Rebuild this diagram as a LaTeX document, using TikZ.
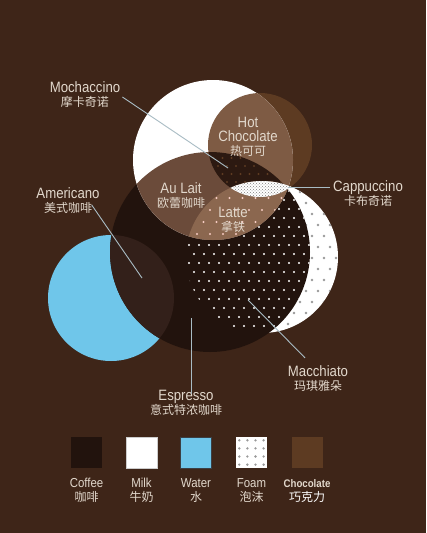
\documentclass[tikz,border=0pt]{standalone}
\usepackage{fontspec}
\setmainfont{Liberation Sans}[FakeStretch=0.88]
\newfontfamily\cjk{Noto Sans CJK SC}
\usetikzlibrary{positioning,patterns}

\definecolor{bgbrown}{HTML}{3E2518}
\definecolor{coffeecol}{HTML}{22130D}
\definecolor{watercol}{HTML}{6FC6EA}
\definecolor{choccol}{HTML}{5D3B22}
\definecolor{hotchoc}{HTML}{7E5B44}
\definecolor{aulaitcol}{HTML}{6B4B3A}
\definecolor{lattecol}{HTML}{8B674F}
\definecolor{mochacol}{HTML}{2C1911}
\definecolor{amercol}{HTML}{33201A}
\definecolor{lbltext}{HTML}{E2D8CC}
\definecolor{pointcol}{HTML}{A9BCC4}
\colorlet{dotgray}{gray!80}

\newcommand{\cn}[1]{{\cjk\mdseries\fontsize{12}{14}\selectfont #1}}

\tikzset{
  lbl/.style={text=lbltext, align=center, inner sep=0pt,
    font=\fontsize{15}{14}\selectfont},
  key/.style={text=lbltext, align=center, inner sep=0pt,
    font=\fontsize{13}{14}\selectfont},
  pointer/.style={draw=pointcol, line width=0.9pt},
  swatch/.style={minimum size=31pt, inner sep=0pt},
}

\begin{document}
\begin{tikzpicture}[x=1pt,y=-1pt]
  \def\coffeecirc{(210,252) circle (100pt)}
  \def\milkcirc{(213,160) circle (80pt)}
  \def\choccirc{(260,145) circle (52pt)}
  \def\foamcirc{(262,257) circle (76pt)}
  \def\watercirc{(111,298) circle (63pt)}

  \useasboundingbox (0,0) rectangle (426,533);
  \fill[bgbrown] (0,0) rectangle (426,533);

  % CIRCLES
  \fill[choccol] \choccirc;
  \fill[watercol] \watercirc;
  \fill[white] \foamcirc;
  \begin{scope}
    \clip \foamcirc;
    \foreach \r in {0,...,14} \foreach \c in {0,...,13}
      \fill[dotgray] ({186+12*\c+6*mod(\r,2)},{181+11*\r}) circle (1.4pt);
  \end{scope}
  \fill[coffeecol] \coffeecirc;
  \begin{scope}
    \clip \watercirc;
    \fill[amercol] \coffeecirc;
  \end{scope}
  % macchiato dots
  \begin{scope}
    \clip \coffeecirc; \clip \foamcirc;
    \foreach \r in {0,...,17} \foreach \c in {0,...,16}
      \fill[white] ({184+10*\c+5*mod(\r,2)},{182+9*\r}) circle (1.2pt);
  \end{scope}
  \fill[white] \milkcirc;
  \begin{scope}
    \clip \milkcirc;
    \fill[aulaitcol] \coffeecirc;
    \fill[hotchoc] \choccirc;
    \begin{scope}
      \clip \choccirc; \clip \coffeecirc;
      \fill[mochacol] \choccirc;
      \foreach \r in {0,...,5} \foreach \c in {0,...,9}
        \fill[choccol] ({200+9*\c+4.5*mod(\r,2)},{150+8*\r}) circle (1.1pt);
    \end{scope}
    \begin{scope}
      \clip \coffeecirc; \clip \foamcirc;
      \fill[lattecol] \foamcirc;
      \foreach \r in {0,...,6} \foreach \c in {0,...,8}
        \fill[red!15!white!85!brown] ({184+13*\c+6.5*mod(\r,2)},{186+12*\r}) circle (1.2pt);
    \end{scope}
  \end{scope}
  % cappuccino lens
  \begin{scope}
    \clip \choccirc;
    \fill[white] \foamcirc;
    \fill[pattern=crosshatch dots, pattern color=gray] \foamcirc;
  \end{scope}

  % LABELS
  \node[lbl] (hotc)  at (248,137) {Hot\\Chocolate\\\cn{热可可}};
  \node[lbl] (aulait) at (181,196) {Au Lait\\\cn{欧蕾咖啡}};
  \node[lbl] (latte) at (233,220) {Latte\\\cn{拿铁}};
  \node[lbl] (mocha) at (85,95) {Mochaccino\\\cn{摩卡奇诺}};
  \node[lbl] (capp)  at (368,194) {Cappuccino\\\cn{卡布奇诺}};
  \node[lbl] (amer)  at (68,201) {Americano\\\cn{美式咖啡}};
  \node[lbl] (espr)  at (186,403) {Espresso\\\cn{意式特浓咖啡}};
  \node[lbl] (macch) at (318,379) {Macchiato\\\cn{玛琪雅朵}};

  \coordinate (mochaend) at (228,168);
  \coordinate (cappend)  at (288,187);
  \coordinate (amerend)  at (142,278);
  \coordinate (esprend)  at (191,318);
  \coordinate (macchend) at (248,300);

  \draw[pointer] ([shift={(2,2)}]mocha.east) -- (mochaend);
  \draw[pointer] (cappend -| capp.west) ++(-3,0) -- (cappend);
  \draw[pointer] ([shift={(-8,4)}]amer.east) -- (amerend);
  \draw[pointer] (esprend) -- ([yshift=-4pt]esprend |- espr.north);
  \draw[pointer] ([shift={(-13,-8)}]macch.north) -- (macchend);

  % LEGEND
  \node[swatch, fill=coffeecol] (sqCoffee) at (86.5,452.5) {};
  \node[swatch, fill=white, draw=gray!40] (sqMilk) at (141.5,452.5) {};
  \node[swatch, fill=watercol, draw=black!60!cyan!40!black] (sqWater) at (196,452.5) {};
  \node[swatch, fill=white] (sqFoam) at (251.5,452.5) {};
  \node[swatch, fill=choccol] (sqChoc) at (307,452.5) {};
  \foreach \i in {0,...,3} \foreach \j in {0,...,3}
    \fill[dotgray] ([shift={(3.5+8.1*\i,3.5+8.1*\j)}]sqFoam.north west) circle (1.3pt);

  \node[key, below=10pt of sqCoffee] (kCoffee) {Coffee\\\cn{咖啡}};
  \node[key, below=10pt of sqMilk]   (kMilk)   {Milk\\\cn{牛奶}};
  \node[key, below=10pt of sqWater]  (kWater)  {Water\\\cn{水}};
  \node[key, below=10pt of sqFoam]   (kFoam)   {Foam\\\cn{泡沫}};
  \node[key, below=11pt of sqChoc, font=\fontsize{11}{14}\bfseries] (kChoc)
    {Chocolate\\{\color{white}\cn{巧克力}}};
\end{tikzpicture}
\end{document}
